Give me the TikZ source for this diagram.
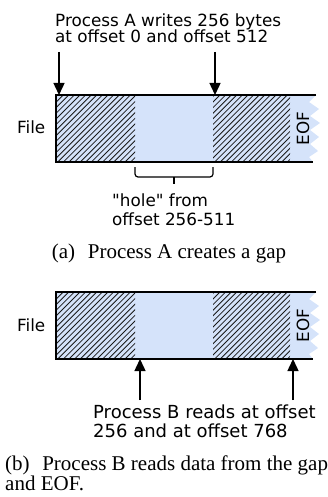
\documentclass[tikz,border=0pt]{standalone}
\usepackage{fontspec}
\setmainfont{Liberation Serif}
\newfontfamily\dvsans{DejaVu Sans}[Ligatures=TeXOff]
\usetikzlibrary{arrows.meta}
\definecolor{gapblue}{RGB}{213,227,250}

\begin{document}
\begin{tikzpicture}[x=1pt,y=-1pt,
  lbl/.style={font=\dvsans\fontsize{16.8}{16.8}\selectfont, inner sep=0pt},
  lblb/.style={font=\dvsans\fontsize{18}{18.5}\selectfont, inner sep=0pt},
  captext/.style={font=\fontsize{21}{20}\selectfont, inner sep=0pt},
  edge/.style={line width=1.4pt},
  hatch/.style={line width=0.8pt, black!90},
  brace/.style={line width=1.2pt, rounded corners=3pt},
  pointer/.style={line width=1.4pt, -{Triangle[width=11pt,length=12pt]}}]
\useasboundingbox (0,0) rectangle (328,497);

% the two file strips: hatched written blocks, blank gap, torn EOF edge
\foreach \dy in {0,197} {
  \begin{scope}[yshift=-\dy pt]
    \fill[gapblue] (56,95) -- (316,95) -- (309,102) -- (319,109) -- (310,116)
      -- (320,123) -- (310,130) -- (319,137) -- (310,144) -- (318,151)
      -- (309,157) -- (313,162) -- (56,162) -- cycle;
    \begin{scope}
      \clip (56,95) rectangle (135,162) (213,95) rectangle (290,162);
      \foreach \x in {-15,-9.4,...,300}
        \draw[hatch] (\x,162) -- ++(67,-67);
    \end{scope}
    \draw[edge] (316,95) -- (56,95) -- (56,162) -- (313,162);
    \node[lbl, rotate=90] (eof\dy) at (303,128.5) {EOF};
    \node[lbl, anchor=base west] (file\dy) at (17,134) {File};
  \end{scope}
}

% (a) writes by process A (anchors sit on the last line's baseline)
\node[lbl, align=left, anchor=base west] (wtext) at (55,43)
  {Process A writes 256 bytes\\at offset 0 and offset 512};
\coordinate (w0from) at (59,52);
\coordinate (w0) at (59,95);
\coordinate (w512from) at (215,52);
\coordinate (w512) at (215,95);
\draw[pointer] (w0from) -- (w0);
\draw[pointer] (w512from) -- (w512);

% brace under the hole
\coordinate (holeL) at (135,167);
\coordinate (holeR) at (213,167);
\coordinate (holeM) at (174,177);
\coordinate (holeTip) at (174,184);
\draw[brace] (holeL) -- (135,177) -- (213,177) -- (holeR);
\draw[line width=1.2pt] (holeM) -- (holeTip);
\node[lbl, align=left, anchor=base west, font=\dvsans\fontsize{16.8}{18.3}\selectfont]
  (holetext) at (112,225) {"hole" from\\offset 256-511};

\node[captext, anchor=base] (capa) at (169,258) {(a)\hspace{0.6em}Process A creates a gap};

% (b) reads by process B
\coordinate (r256) at (140,359);
\coordinate (r256from) at (140,400);
\coordinate (r768) at (293,359);
\coordinate (r768from) at (293,400);
\draw[pointer] (r256from) -- (r256);
\draw[pointer] (r768from) -- (r768);
\node[lblb, align=left, anchor=base west] (rtext) at (93,437)
  {Process B reads at offset\\256 and at offset 768};

\node[captext, align=left, anchor=base west] (capb) at (5,490)
  {(b)\hspace{0.6em}Process B reads data from the gap\\and EOF.};
\end{tikzpicture}
\end{document}
